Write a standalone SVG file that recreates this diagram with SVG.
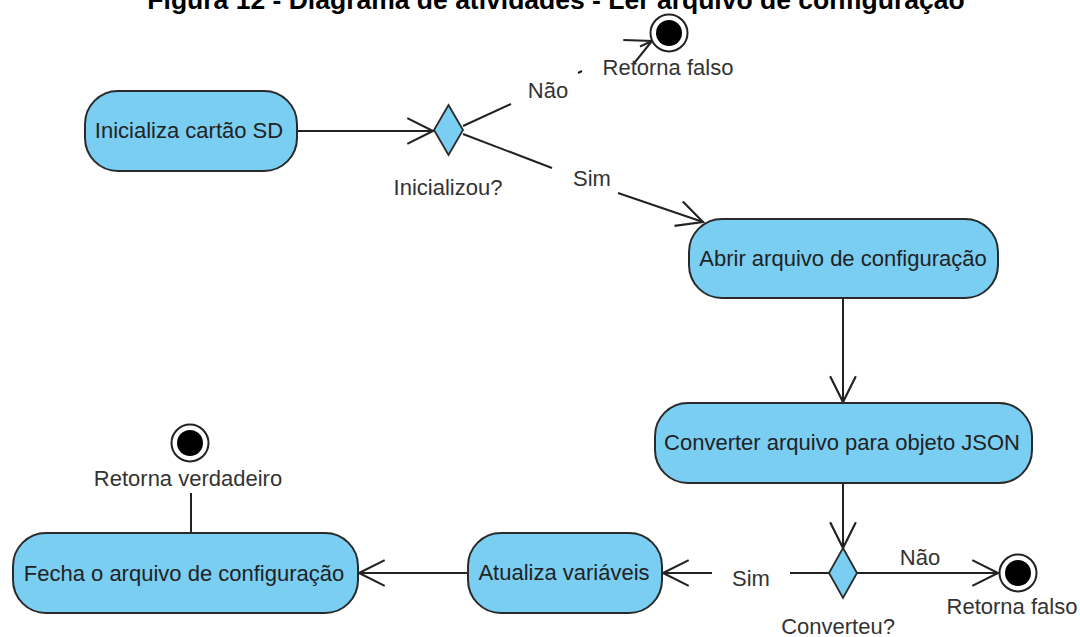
<svg xmlns="http://www.w3.org/2000/svg" width="1080" height="637" viewBox="0 0 1080 637">
<style>
.box{fill:#7ACEF2;stroke:#2a2a2a;stroke-width:2}
.dia{fill:#7ACEF2;stroke:#2a2a2a;stroke-width:1.8}
.ntext{font-family:"Liberation Sans",Arial,sans-serif;font-size:22px;fill:#222;text-anchor:middle}
.ltext{font-family:"Liberation Sans",Arial,sans-serif;font-size:22px;fill:#333;text-anchor:middle}
.title{font-family:"Liberation Sans",Arial,sans-serif;font-size:26.5px;font-weight:bold;fill:#000;text-anchor:middle}
.edge{fill:none;stroke:#222;stroke-width:2}
.ring{fill:#fff;stroke:#222;stroke-width:2}
.dot{fill:#000}
</style>
<defs>
<marker id="arr" markerUnits="userSpaceOnUse" markerWidth="30" markerHeight="30" refX="0" refY="0" viewBox="-26 -14 28 28" orient="auto" overflow="visible">
<path d="M-24,-12 L0,0 L-24,12" fill="none" stroke="#222" stroke-width="2"/>
</marker>
</defs>

<text class="title" x="556" y="9">Figura 12 - Diagrama de atividades - Ler arquivo de configuração</text>

<g id="edges">
<path class="edge" d="M297,131 L433,131" marker-end="url(#arr)"/>
<path class="edge" d="M463,126 L511,104"/>
<path class="edge" d="M578,73 L582,71"/>
<path class="edge" d="M640,46.5 L652,41" marker-end="url(#arr)"/>
<path class="edge" d="M463,134 L552,168"/>
<path class="edge" d="M618,193 L703,222" marker-end="url(#arr)"/>
<path class="edge" d="M843,298 L843,402" marker-end="url(#arr)"/>
<path class="edge" d="M843,483 L843,548" marker-end="url(#arr)"/>
<path class="edge" d="M857,573 L998,573" marker-end="url(#arr)"/>
<path class="edge" d="M829,573 L790,573"/>
<path class="edge" d="M712,573 L663,573" marker-end="url(#arr)"/>
<path class="edge" d="M468,573 L359,573" marker-end="url(#arr)"/>
<path class="edge" d="M191,493 L191,533"/>
<text class="ltext" x="548" y="98">Não</text>
<text class="ltext" x="592" y="186">Sim</text>
<text class="ltext" x="920" y="565">Não</text>
<text class="ltext" x="751" y="586">Sim</text>
</g>

<g id="n-inicializa">
<rect class="box" x="85" y="91" width="212" height="80" rx="33"/>
<text class="ntext" x="189" y="138">Inicializa cartão SD</text>
</g>

<g id="d-inicializou">
<polygon class="dia" points="448.5,105 463,130 448.5,155 434,130"/>
<text class="ltext" x="448" y="195">Inicializou?</text>
</g>

<g id="f-top">
<circle class="ring" cx="669" cy="33" r="18.5"/>
<circle class="dot" cx="669" cy="33" r="13"/>
<text class="ltext" x="668" y="75">Retorna falso</text>
</g>

<g id="n-abrir">
<rect class="box" x="689" y="219" width="309" height="79" rx="33"/>
<text class="ntext" x="843" y="266">Abrir arquivo de configuração</text>
</g>

<g id="n-converter">
<rect class="box" x="655" y="403" width="377" height="80" rx="33"/>
<text class="ntext" x="842" y="450">Converter arquivo para objeto JSON</text>
</g>

<g id="d-converteu">
<polygon class="dia" points="843,548 857,573 843,598 829,573"/>
<text class="ltext" x="838" y="634">Converteu?</text>
</g>

<g id="f-right">
<circle class="ring" cx="1018" cy="573" r="18.5"/>
<circle class="dot" cx="1018" cy="573" r="13"/>
<text class="ltext" x="1012" y="614">Retorna falso</text>
</g>

<g id="n-atualiza">
<rect class="box" x="468" y="533" width="194" height="80" rx="33"/>
<text class="ntext" x="564" y="580">Atualiza variáveis</text>
</g>

<g id="n-fecha">
<rect class="box" x="13" y="533" width="345" height="80" rx="33"/>
<text class="ntext" x="184" y="581">Fecha o arquivo de configuração</text>
</g>

<g id="f-left">
<circle class="ring" cx="190" cy="443" r="18.5"/>
<circle class="dot" cx="190" cy="443" r="13"/>
<text class="ltext" x="188" y="486">Retorna verdadeiro</text>
</g>
</svg>
